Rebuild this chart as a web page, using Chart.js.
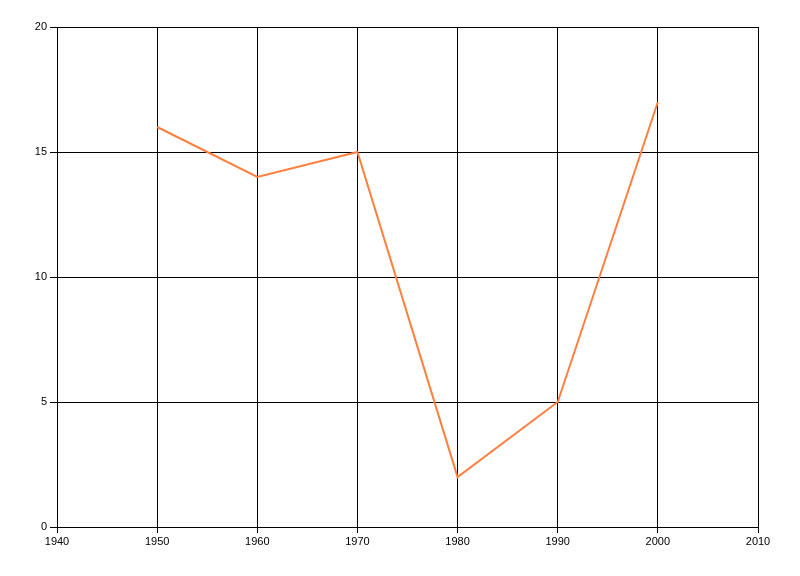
<!DOCTYPE html>
<html>
<head>
<meta charset="UTF-8">
<title>Line chart</title>
<script src="https://cdn.jsdelivr.net/npm/chart.js@4.4.0/dist/chart.umd.min.js"></script>
<style>
  * { margin: 0; padding: 0; }
  body { background: #fff; width: 800px; height: 576px; overflow: hidden; }
  #wrap { width: 800px; height: 576px; }
</style>
</head>
<body>
<div id="wrap"><canvas id="chart" width="800" height="576"></canvas></div>
<script>
// values
const years = [1950, 1960, 1970, 1980, 1990, 2000];
const values = [16, 14, 15, 2, 5, 17];
const xTicks = [1940, 1950, 1960, 1970, 1980, 1990, 2000, 2010];
const yTicks = [0, 5, 10, 15, 20];

const tickFont = { family: '"Liberation Sans", Arial, sans-serif', size: 11 };

new Chart(document.getElementById('chart'), {
  type: 'line',
  data: {
    datasets: [{
      data: years.map((y, i) => ({ x: y, y: values[i] })),
      borderColor: '#ff7f3f',
      borderWidth: 2,
      pointRadius: 0,
      tension: 0,
      fill: false,
    }]
  },
  options: {
    responsive: false,
    animation: false,
    layout: { padding: { top: 27, right: 42, left: 0, bottom: 0 } },
    plugins: { legend: { display: false }, tooltip: { enabled: false } },
    scales: {
      x: {
        type: 'linear',
        min: xTicks[0],
        max: xTicks[xTicks.length - 1],
        afterBuildTicks: s => { s.ticks = xTicks.map(v => ({ value: v })); },
        afterFit: s => { s.height = 49; },
        ticks: { color: '#000', font: tickFont, padding: 2, maxRotation: 0, callback: v => String(v) },
        grid: { color: '#000', lineWidth: 1, tickLength: 6, tickColor: '#000' },
        border: { color: '#000', width: 1 },
      },
      y: {
        min: yTicks[0],
        max: yTicks[yTicks.length - 1],
        afterBuildTicks: s => { s.ticks = yTicks.map(v => ({ value: v })); },
        afterFit: s => { s.width = 57; },
        ticks: { color: '#000', font: tickFont, padding: 3 },
        grid: { color: '#000', lineWidth: 1, tickLength: 7, tickColor: '#000' },
        border: { color: '#000', width: 1 },
      }
    }
  }
});
</script>
</body>
</html>
